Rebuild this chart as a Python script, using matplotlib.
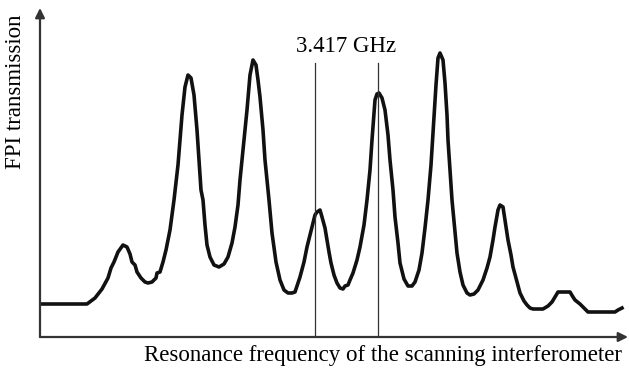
import numpy as np
import matplotlib.pyplot as plt

# trace (arbitrary units, origin at the axes corner)
freq = [0, 47, 55, 62, 68, 71, 74, 78, 83, 87, 90, 92, 95, 97, 101, 105, 108, 112, 116, 117,
        120, 123, 126, 130, 134, 138, 142, 145, 148, 151, 154, 157, 159, 161, 163, 165, 167, 170,
        174, 179, 184, 188, 192, 195, 198, 200, 204, 207, 210, 213, 216, 218, 220, 223, 225, 229,
        232, 236, 240, 244, 248, 252, 255, 260, 264, 267, 272, 275, 277, 280, 282, 285, 287, 289,
        291, 294, 297, 300, 303, 305, 308, 310, 313, 317, 320, 324, 327, 330, 332, 335, 337, 339,
        342, 345, 348, 350, 353, 355, 358, 360, 364, 368, 372, 375, 379, 382, 385, 388, 391, 393,
        396, 398, 400, 403, 405, 407, 408, 410, 412, 415, 417, 420, 423, 427, 430, 434, 438, 443,
        447, 450, 453, 455, 458, 460, 463, 465, 468, 471, 473, 477, 480, 484, 487, 490, 493, 503,
        508, 512, 515, 518, 530, 533, 535, 540, 544, 548, 575, 578, 582]
trans = [33, 33, 39, 48, 59, 69, 75, 85, 92, 90, 83, 75, 72, 65, 59, 55, 54, 55, 59, 64,
         65, 75, 87, 107, 137, 172, 222, 250, 262, 259, 242, 207, 177, 147, 137, 112, 92, 80,
         72, 70, 73, 80, 94, 110, 132, 157, 197, 227, 262, 277, 272, 257, 240, 207, 177, 137,
         104, 75, 57, 47, 44, 44, 45, 60, 75, 90, 110, 122, 125, 127, 120, 109, 97, 85,
         74, 62, 54, 49, 48, 51, 52, 57, 64, 77, 90, 112, 137, 167, 197, 237, 243, 244,
         239, 227, 202, 177, 147, 120, 94, 74, 58, 51, 51, 55, 67, 84, 109, 137, 172, 204,
         252, 279, 284, 277, 254, 222, 197, 167, 137, 105, 84, 65, 52, 44, 42, 43, 47, 57,
         69, 80, 97, 110, 127, 132, 130, 117, 97, 82, 70, 55, 44, 36, 32, 29, 28, 28,
         31, 35, 40, 45, 45, 40, 37, 33, 29, 25, 25, 27, 29]

marks = [275, 338]
mark_label = '3.417 GHz'

plt.rcParams['font.family'] = ['Liberation Serif', 'DejaVu Serif']

fig = plt.figure(figsize=(6.29, 3.69), dpi=100)
ax = fig.add_axes([40 / 629, 32 / 369, 588 / 629, 329 / 369])
ax.set_xlim(0, 588)
ax.set_ylim(0, 329)
ax.axis('off')

ax.plot(freq, trans, color='#111111', linewidth=2.6, solid_joinstyle='round')

for m in marks:
    ax.plot([m, m], [0, 274], color='#333333', linewidth=0.9)
ax.text(np.mean(marks), 290, mark_label, ha='center', va='center', fontsize=16.5)

# axes with arrow heads
ax.annotate('', xy=(588, 0), xytext=(0, 0),
            arrowprops=dict(arrowstyle='-|>', color='#333333', lw=1.6, mutation_scale=14,
                            shrinkA=0, shrinkB=0), annotation_clip=False)
ax.annotate('', xy=(0, 329), xytext=(0, 0),
            arrowprops=dict(arrowstyle='-|>', color='#333333', lw=1.6, mutation_scale=14,
                            shrinkA=0, shrinkB=0), annotation_clip=False)

fig.text(16 / 629, 1 - 92 / 369, 'FPI transmission', rotation=90, ha='center', va='center',
         fontsize=16.5)
fig.text(622 / 629, 1 - 356 / 369, 'Resonance frequency of the scanning interferometer',
         ha='right', va='center', fontsize=16.5)

fig.savefig('out.png', dpi=100)
